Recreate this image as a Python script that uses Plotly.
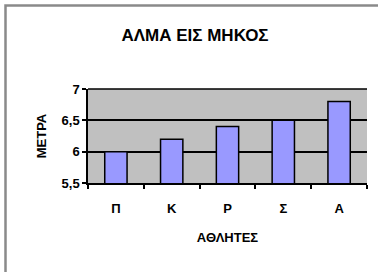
import plotly.graph_objects as go

athletes = ["Π", "Κ", "Ρ", "Σ", "Α"]
meters = [6.0, 6.2, 6.4, 6.5, 6.8]
y_ticks = [5.5, 6, 6.5, 7]
y_tick_labels = ["5,5", "6", "6,5", "7"]

W, H = 378, 272
L, R, T, B = 88, 11, 89, 89
pw, ph = W - L - R, H - T - B

def px(x):
    return (x - L) / pw

def py(y):
    return (H - B - y) / ph

fig = go.Figure(go.Bar(
    x=athletes, y=meters,
    marker=dict(color="#9999FF", line=dict(color="black", width=1.5)),
    width=0.4,
))

font = "Liberation Sans, Arial, sans-serif"
fig.update_layout(
    width=W, height=H,
    margin=dict(l=L, r=R, t=T, b=B, autoexpand=False),
    paper_bgcolor="white",
    plot_bgcolor="#C0C0C0",
    showlegend=False,
    separators=",.",
    title=dict(text="<b>ΑΛΜΑ ΕΙΣ ΜΗΚΟΣ</b>", xref="container", yref="container",
               x=195 / W, xanchor="center", y=1 - 35 / H, yanchor="middle",
               font=dict(family=font, size=17, color="black")),
    xaxis=dict(
        showline=True, linecolor="black", linewidth=1.5,
        ticks="outside", tickson="boundaries", ticklen=4, tickcolor="black", tickwidth=1.5,
        tickfont=dict(family=font, size=13, color="black", weight="bold"),
        ticklabelstandoff=13,
        title=dict(text="<b>ΑΘΛΗΤΕΣ</b>", font=dict(family=font, size=13, color="black"), standoff=18),
        showgrid=False, fixedrange=True, automargin=False,
    ),
    yaxis=dict(
        range=[5.5, 7], tickvals=y_ticks, ticktext=y_tick_labels,
        showline=True, linecolor="black", linewidth=1.5,
        ticks="outside", ticklen=4, tickcolor="black", tickwidth=1.5,
        tickfont=dict(family=font, size=13, color="black", weight="bold"),
        showgrid=True, gridcolor="black", gridwidth=1.5,
        title=dict(text="<b>ΜΕΤΡΑ</b>", font=dict(family=font, size=13, color="black"), standoff=12),
        zeroline=False, fixedrange=True, automargin=False,
    ),
    shapes=[
        dict(type="rect", xref="paper", yref="paper",
             x0=px(5.5), x1=px(390), y0=py(5.5), y1=py(290),
             line=dict(color="#8a8a8a", width=2.5), fillcolor="rgba(0,0,0,0)", layer="below"),
        dict(type="line", xref="paper", yref="paper", x0=0, x1=1, y0=1, y1=1,
             line=dict(color="black", width=1.5)),
    ],
)

fig.write_html("out.html", config={"displayModeBar": False},
               post_script="document.body.style.margin='0px';document.body.style.overflow='hidden';")
